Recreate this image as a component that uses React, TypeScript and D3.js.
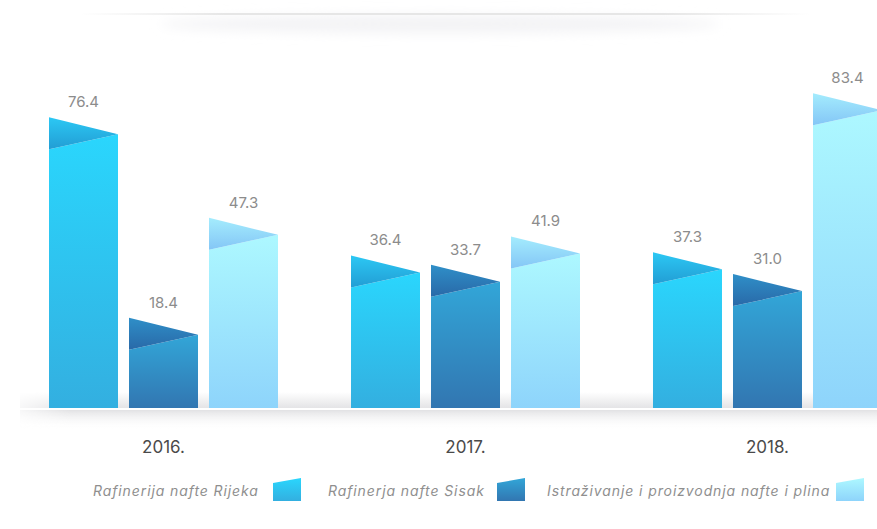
import React from 'react';
import * as d3 from 'd3';

const years = ['2016.', '2017.', '2018.'];
const series = ['Rafinerija nafte Rijeka', 'Rafinerja nafte Sisak', 'Istraživanje i proizvodnja nafte i plina'];
const rijeka = [76.4, 36.4, 37.3];
const sisak = [18.4, 33.7, 31.0];
const istrazivanje = [47.3, 41.9, 83.4];

const values = [rijeka, sisak, istrazivanje];

// body gradient (top, bottom) and fold triangle gradient (top, bottom)
const palette = [
  { top: '#2ad6fd', bottom: '#33afe0', foldTop: '#2cc8f4', foldBottom: '#229dd4' },
  { top: '#32a6d8', bottom: '#3276b1', foldTop: '#2f8fc8', foldBottom: '#2969a8' },
  { top: '#adf8ff', bottom: '#8ed4fb', foldTop: '#a4ecfd', foldBottom: '#84c6f6' },
];

const W = 877;
const H = 529;
const baseline = 408;

const App: React.FC = () => {
  const x0 = d3.scaleBand<string>().domain(years).range([49, 882]).paddingInner(0.2417).paddingOuter(0);
  const x1 = d3.scaleBand<string>().domain(series).range([0, x0.bandwidth()]).paddingInner(0.1375);
  const y = d3.scaleLinear().domain([-7.76, 90]).range([baseline, baseline - 97.76 * 3.454]);

  const legendX = [93, 328, 547];
  const iconX = [273, 497, 836];

  return (
    <>
      <style>{`body{margin:0;background:#fff}`}</style>
      <svg width={W} height={H} style={{ display: 'block', fontFamily: 'Inter, "Noto Sans", sans-serif' }}>
        <defs>
          {palette.map((p, i) => (
            <React.Fragment key={i}>
              <linearGradient id={`body${i}`} x1="0" y1="0" x2="0" y2="1">
                <stop offset="0%" stopColor={p.top} />
                <stop offset="100%" stopColor={p.bottom} />
              </linearGradient>
              <linearGradient id={`fold${i}`} x1="0" y1="0" x2="0" y2="1">
                <stop offset="0%" stopColor={p.foldTop} />
                <stop offset="100%" stopColor={p.foldBottom} />
              </linearGradient>
            </React.Fragment>
          ))}
          <linearGradient id="topLine" x1="0" y1="0" x2="1" y2="0">
            <stop offset="0%" stopColor="#e6e6e6" stopOpacity="0" />
            <stop offset="20%" stopColor="#e6e6e6" stopOpacity="1" />
            <stop offset="80%" stopColor="#e6e6e6" stopOpacity="1" />
            <stop offset="100%" stopColor="#e6e6e6" stopOpacity="0" />
          </linearGradient>
          <linearGradient id="floorBack" x1="0" y1="0" x2="0" y2="1">
            <stop offset="0%" stopColor="#ffffff" />
            <stop offset="100%" stopColor="#e4e4e6" />
          </linearGradient>
          <linearGradient id="floorFront" x1="0" y1="0" x2="0" y2="1">
            <stop offset="0%" stopColor="#e2e2e4" />
            <stop offset="100%" stopColor="#ffffff" stopOpacity="0" />
          </linearGradient>
          <linearGradient id="floorFade" x1="0" y1="0" x2="1" y2="0">
            <stop offset="0%" stopColor="#fff" stopOpacity="0" />
            <stop offset="8%" stopColor="#fff" stopOpacity="1" />
            <stop offset="100%" stopColor="#fff" stopOpacity="1" />
          </linearGradient>
          <mask id="floorMask">
            <rect x={0} y={380} width={W} height={60} fill="url(#floorFade)" />
          </mask>
          <filter id="blur" x="-20%" y="-100%" width="140%" height="300%">
            <feGaussianBlur stdDeviation="6" />
          </filter>
        </defs>

        {/* top decorative shadow */}
        <ellipse cx={440} cy={24} rx={280} ry={9} fill="#f3f3f5" filter="url(#blur)" />
        <rect x={80} y={13} width={730} height={2} fill="url(#topLine)" />

        {/* floor */}
        <g mask="url(#floorMask)">
          <rect x={20} y={392} width={W} height={16} fill="url(#floorBack)" />
          <rect x={20} y={410} width={W} height={20} fill="url(#floorFront)" />
        </g>

        {years.map((yr, gi) => (
          <g key={yr} transform={`translate(${x0(yr)},0)`}>
            {series.map((s, si) => {
              const v = values[si][gi];
              const bx = x1(s) as number;
              const bw = x1.bandwidth();
              const tl = y(v);
              const tr = tl + 17;
              const fl = tl + 32;
              return (
                <g key={s}>
                  <path
                    d={`M${bx},${fl}L${bx + bw},${tr}L${bx + bw},${baseline}L${bx},${baseline}Z`}
                    fill={`url(#body${si})`}
                  />
                  <path d={`M${bx},${tl}L${bx + bw},${tr}L${bx},${fl}Z`} fill={`url(#fold${si})`} />
                  <text
                    x={bx + bw / 2}
                    y={tl - 10}
                    textAnchor="middle"
                    fontSize={15}
                    fill="#8c8c8c"
                  >
                    {v.toFixed(1)}
                  </text>
                </g>
              );
            })}
            <text x={x0.bandwidth() / 2} y={453} textAnchor="middle" fontSize={17} fill="#4a4a4a">
              {yr}
            </text>
          </g>
        ))}

        {/* legend */}
        {series.map((s, i) => (
          <g key={s}>
            <text x={legendX[i]} y={496} fontSize={14} letterSpacing={0.9} fontStyle="italic" fill="#8f8f8f">
              {s}
            </text>
            <path
              d={`M${iconX[i]},483L${iconX[i] + 28},478L${iconX[i] + 28},501L${iconX[i]},501Z`}
              fill={`url(#body${i})`}
            />
          </g>
        ))}
      </svg>
    </>
  );
};

export default App;
